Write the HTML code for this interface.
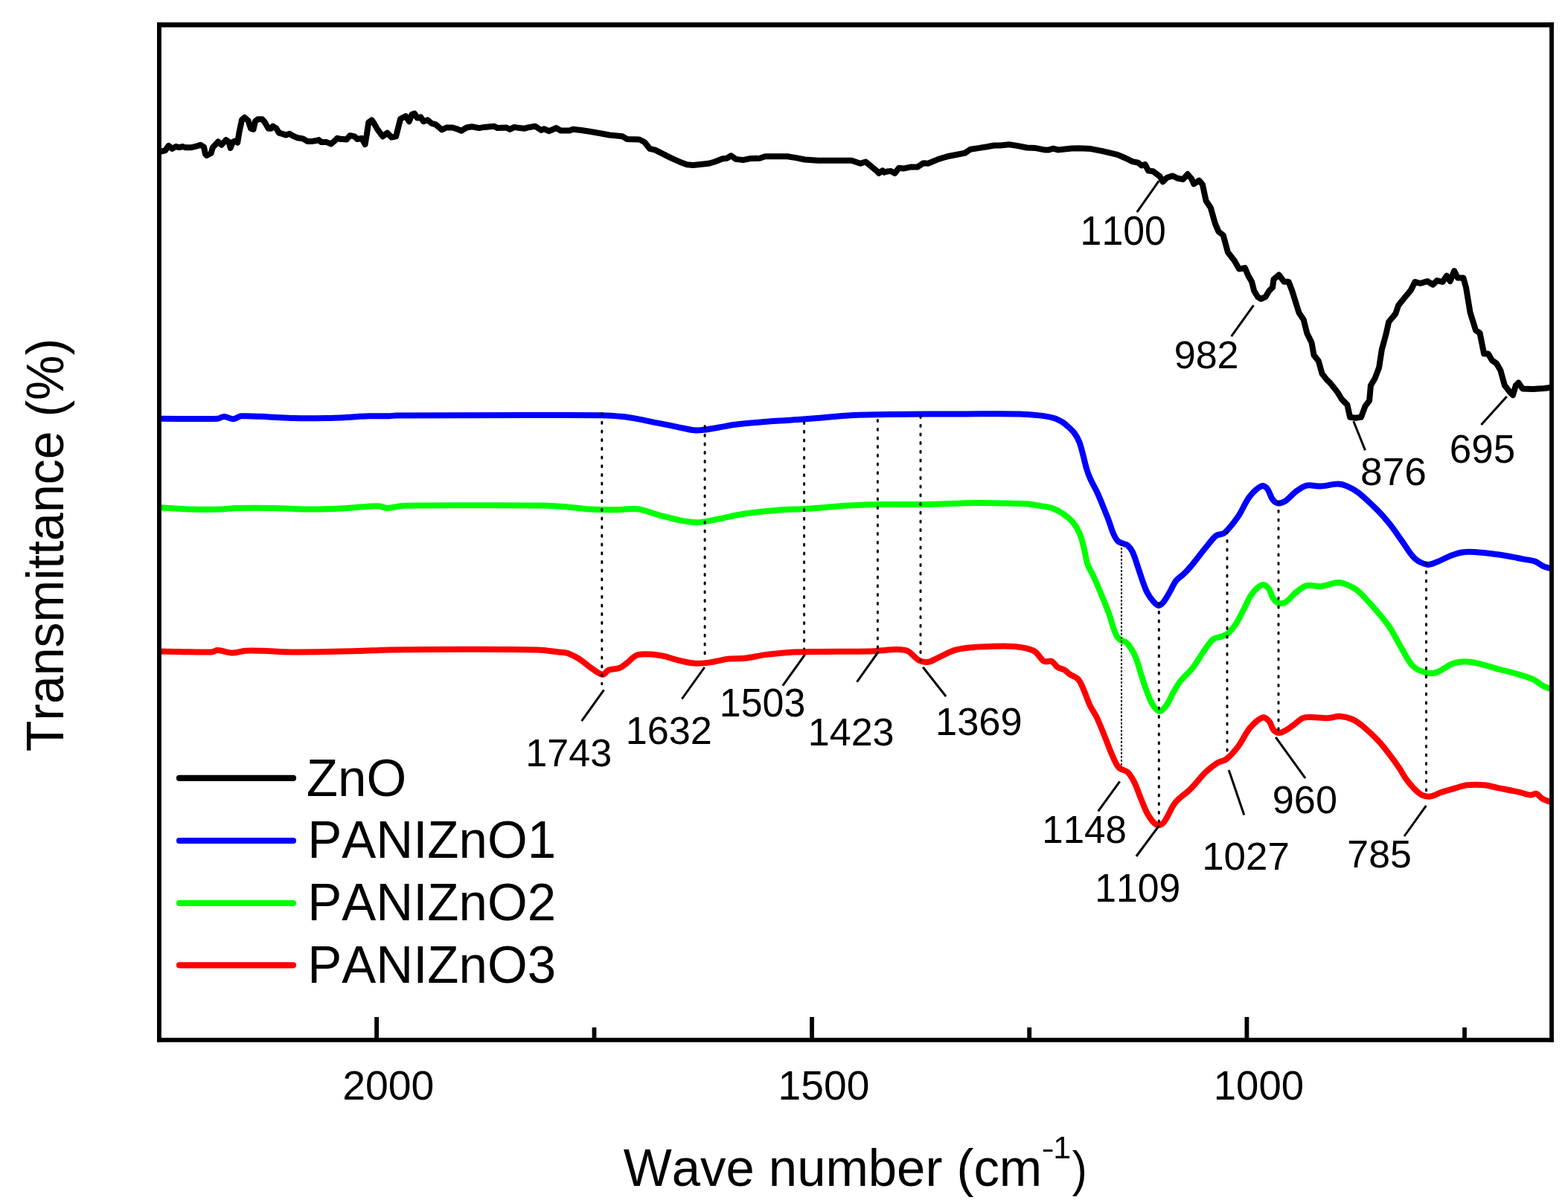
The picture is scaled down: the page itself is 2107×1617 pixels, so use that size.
<!DOCTYPE html>
<html><head><meta charset="utf-8"><title>FTIR spectra</title>
<style>
html,body{margin:0;padding:0;background:#fff;}
svg{display:block;}
text{font-family:"Liberation Sans",Arial,Helvetica,sans-serif;fill:#000;font-kerning:none;font-feature-settings:"kern" 0;}
</style></head><body>
<svg width="2107" height="1617" viewBox="0 0 2107 1617">
<rect x="0" y="0" width="2107" height="1617" fill="#fff"/>

<g fill="none" stroke-width="8" stroke-linejoin="round" stroke-linecap="round">
<polyline stroke="#000" points="216.5,203.6 221.9,202.4 226.6,195.9 231.4,200.0 236.1,197.0 240.8,198.2 245.6,197.0 249.2,198.2 257.5,198.2 264.6,196.4 269.3,194.7 274.0,197.6 275.9,207.1 277.6,208.9 283.6,205.9 285.9,198.2 293.1,190.5 297.8,194.7 303.7,188.1 307.3,190.5 309.7,198.8 313.2,190.5 316.8,189.3 319.2,191.7 321.5,177.5 325.1,160.9 328.7,157.9 333.4,162.0 337.0,172.7 340.5,173.9 342.9,163.2 346.4,160.3 352.4,160.3 355.9,164.4 360.7,172.7 364.3,172.7 366.6,169.7 371.4,172.7 374.9,178.6 380.9,180.4 384.4,181.6 389.2,179.8 393.9,182.8 399.8,185.2 407.0,186.4 412.9,189.9 420.0,189.9 423.6,189.3 428.3,188.1 431.9,191.1 439.0,191.1 444.9,193.5 449.7,189.3 453.2,185.8 458.0,187.0 460.9,187.0 465.7,187.5 470.4,182.2 476.4,183.4 479.9,187.0 485.8,185.8 490.6,194.1 493.0,179.8 495.3,164.4 499.5,161.4 502.5,165.6 507.2,173.9 514.3,183.4 520.3,178.6 526.2,184.6 532.1,183.4 535.7,169.2 538.1,159.7 545.2,156.1 549.9,163.2 553.5,153.7 557.0,152.5 560.6,158.5 565.3,157.3 568.9,163.2 574.8,161.4 579.6,165.6 585.5,167.4 590.3,171.5 593.8,174.5 599.8,171.5 608.1,171.5 614.0,173.3 619.9,175.7 627.0,171.5 634.2,170.3 643.7,172.1 650.8,170.9 663.8,169.7 668.6,172.1 680.4,171.5 685.2,173.9 691.1,170.9 698.2,172.1 705.0,172.7 709.5,171.4 719.0,169.7 727.3,175.0 730.8,173.2 738.0,176.2 747.5,172.0 753.4,175.6 765.3,175.6 770.0,173.8 780.7,175.0 792.5,176.8 806.8,179.2 818.7,181.5 836.5,183.3 842.4,186.9 859.0,187.5 866.1,191.0 873.2,199.9 880.4,201.7 889.8,206.4 901.7,212.4 913.6,217.7 923.1,221.3 931.4,221.9 943.2,220.7 952.1,219.8 960.4,217.5 971.1,213.3 977.0,212.7 982.4,209.2 988.9,213.9 998.4,215.1 1006.7,213.3 1020.9,212.7 1028.1,210.3 1057.7,210.3 1069.6,212.1 1081.4,214.5 1099.2,215.7 1123.0,215.7 1144.3,215.7 1156.2,219.8 1163.3,217.5 1170.4,223.4 1177.6,229.3 1181.1,232.9 1185.9,229.3 1188.2,231.7 1192.0,230.5 1197.1,229.9 1202.5,232.9 1207.8,225.8 1214.9,226.4 1223.2,224.6 1232.7,224.6 1241.0,219.2 1247.0,219.8 1261.2,213.9 1273.1,210.3 1284.9,208.0 1296.8,205.6 1303.9,200.8 1314.6,199.1 1326.4,197.3 1335.9,195.5 1344.2,195.5 1356.1,194.3 1368.0,196.1 1379.8,198.5 1391.7,199.1 1403.6,201.4 1409.5,201.4 1415.4,199.7 1421.4,201.4 1433.2,200.3 1440.0,199.6 1450.5,199.3 1465.9,200.1 1481.4,203.2 1501.5,207.8 1512.3,212.5 1521.6,217.1 1529.3,218.7 1534.0,222.5 1538.6,221.0 1543.2,229.5 1549.4,230.2 1558.7,237.2 1562.6,244.2 1568.0,238.8 1575.7,236.4 1581.9,239.5 1589.6,241.1 1595.8,234.1 1601.2,240.3 1604.3,247.3 1611.3,242.6 1615.9,248.0 1620.5,269.7 1626.7,278.9 1632.9,300.6 1637.5,311.4 1643.7,316.1 1649.9,339.0 1659.0,350.8 1665.1,361.6 1672.9,360.1 1677.5,370.9 1682.1,378.7 1685.2,391.0 1689.9,398.8 1694.5,401.8 1700.7,398.8 1705.3,391.0 1710.0,386.4 1711.5,375.6 1718.5,369.4 1725.4,378.7 1731.6,378.7 1736.3,391.0 1745.5,420.4 1751.7,429.7 1756.4,448.2 1762.5,460.6 1765.6,477.6 1771.8,485.3 1776.5,502.3 1782.6,510.1 1787.3,514.7 1790.0,518.0 1797.4,527.4 1803.0,536.7 1810.4,544.1 1814.1,560.8 1821.5,561.7 1829.0,560.8 1834.5,545.9 1840.1,538.5 1841.9,518.1 1847.5,508.8 1853.1,494.0 1856.8,469.9 1862.4,449.5 1866.1,432.8 1875.3,421.6 1879.1,410.5 1886.5,401.2 1895.8,390.1 1901.3,379.0 1908.7,380.8 1918.0,378.0 1925.4,382.7 1931.0,377.1 1938.4,379.0 1944.0,370.6 1948.6,378.0 1954.2,364.1 1958.8,373.4 1966.3,373.4 1970.0,386.4 1975.5,419.8 1983.0,443.9 1988.5,447.6 1994.1,475.4 1999.6,475.4 2005.2,484.7 2010.8,488.4 2016.3,497.7 2021.9,518.1 2029.3,527.4 2033.0,531.1 2036.8,518.1 2040.5,514.4 2046.0,522.5 2060.0,523.0 2075.0,522.0 2083.0,521.0"/>
<path stroke="#00f" stroke-linecap="butt" d="M215.0,562.7 C240.9,562.7 266.9,563.5 292.6,562.7 C295.6,562.6 298.2,559.8 301.1,559.9 C305.3,560.0 309.7,563.4 313.9,563.3 C317.3,563.2 320.4,559.5 323.9,559.3 C336.0,558.6 348.6,559.9 360.9,560.4 C372.3,560.8 383.7,561.8 395.1,562.1 C409.3,562.4 423.6,562.3 437.8,562.1 C447.3,562.0 456.8,561.5 466.3,561.0 C475.8,560.5 485.2,559.6 494.7,559.3 C504.2,559.0 513.7,559.5 523.2,559.3 C526.0,559.2 528.9,558.4 531.7,558.4 C624.0,558.0 716.3,557.7 808.6,558.2 C818.1,558.3 827.6,559.1 837.1,560.1 C844.1,560.8 851.1,562.1 858.0,563.4 C866.7,565.0 875.3,566.9 883.9,568.6 C892.6,570.3 901.2,572.1 909.9,573.8 C917.7,575.3 925.4,577.5 933.2,578.3 C937.5,578.8 941.9,578.2 946.2,577.7 C952.8,576.9 959.4,575.6 966.0,574.5 C973.3,573.3 980.5,571.6 987.8,570.8 C1005.0,568.8 1022.4,567.4 1039.7,566.0 C1052.7,565.0 1065.7,564.5 1078.7,563.6 C1091.7,562.6 1104.7,561.4 1117.7,560.3 C1126.3,559.6 1134.9,558.6 1143.6,558.2 C1160.9,557.4 1178.3,557.1 1195.6,556.9 C1230.2,556.5 1264.9,556.5 1299.5,556.4 C1322.8,556.3 1346.2,555.9 1369.5,556.4 C1379.2,556.6 1389.0,557.4 1398.6,558.6 C1404.8,559.4 1411.1,560.4 1417.1,562.3 C1421.0,563.5 1424.6,565.7 1428.2,567.8 C1430.0,568.9 1431.7,570.3 1433.3,571.7 C1436.8,574.9 1440.5,578.0 1443.4,581.7 C1446.1,585.2 1448.3,589.3 1450.0,593.4 C1452.2,598.7 1453.5,604.5 1455.0,610.1 C1456.8,616.7 1458.1,623.5 1460.1,630.1 C1461.5,634.7 1463.1,639.2 1465.1,643.5 C1468.1,650.3 1472.0,656.7 1475.1,663.5 C1478.1,670.1 1480.7,676.9 1483.4,683.6 C1485.7,689.2 1488.0,694.7 1490.1,700.3 C1492.2,705.8 1493.6,711.6 1496.0,717.0 C1497.5,720.5 1499.3,724.3 1501.8,727.0 C1503.4,728.8 1506.2,729.4 1508.5,730.4 C1510.7,731.4 1513.5,731.4 1515.2,732.9 C1517.9,735.3 1520.3,738.6 1521.9,742.0 C1524.7,747.8 1526.4,754.2 1528.5,760.4 C1530.8,767.1 1532.8,773.9 1535.2,780.5 C1537.3,786.1 1539.1,791.9 1541.9,797.2 C1544.1,801.4 1547.0,805.4 1550.2,808.9 C1552.0,810.9 1554.7,813.9 1556.9,813.9 C1559.1,813.9 1561.9,811.0 1563.6,808.9 C1566.9,804.9 1569.3,800.0 1572.0,795.5 C1574.9,790.6 1576.9,785.0 1580.3,780.5 C1582.9,777.2 1586.9,775.0 1590.0,772.1 C1593.1,769.1 1596.2,766.0 1599.0,762.7 C1606.6,753.6 1613.6,744.0 1621.2,734.8 C1625.4,729.7 1629.2,723.9 1634.2,720.0 C1637.2,717.7 1642.5,718.8 1645.4,716.3 C1652.4,710.1 1658.4,701.9 1663.9,694.0 C1669.6,685.8 1672.8,675.8 1678.8,668.0 C1683.3,662.2 1689.6,655.9 1695.5,653.2 C1697.7,652.2 1701.3,654.8 1702.9,656.9 C1706.2,661.0 1707.1,667.5 1710.3,671.7 C1712.0,674.0 1715.1,676.3 1717.7,676.4 C1721.1,676.6 1725.3,674.6 1728.4,672.6 C1733.1,669.5 1736.4,664.3 1741.0,661.0 C1745.6,657.7 1750.5,653.8 1755.8,652.6 C1761.7,651.3 1768.4,653.9 1774.7,653.6 C1782.4,653.2 1790.2,650.5 1797.8,650.5 C1802.1,650.5 1806.5,651.9 1810.4,653.6 C1815.6,655.8 1820.8,658.6 1825.2,662.1 C1834.1,669.1 1842.4,677.2 1850.4,685.2 C1856.4,691.2 1861.9,697.5 1867.2,704.1 C1873.1,711.6 1878.4,719.6 1884.0,727.3 C1889.6,735.0 1894.1,744.1 1900.9,750.4 C1905.4,754.6 1911.9,757.8 1917.7,758.8 C1921.7,759.5 1926.3,757.1 1930.3,755.6 C1937.5,752.9 1944.1,748.8 1951.3,746.2 C1956.7,744.2 1962.5,742.4 1968.2,742.0 C1976.5,741.4 1985.0,742.2 1993.4,743.0 C2003.9,744.0 2014.4,745.5 2024.9,747.2 C2032.0,748.3 2039.0,750.0 2046.0,751.4 C2051.6,752.5 2057.5,752.8 2062.8,754.6 C2066.6,755.9 2069.6,759.2 2073.3,760.9 C2076.6,762.4 2080.3,763.0 2083.8,764.1"/>
<path stroke="#0f0" stroke-linecap="butt" d="M215.0,682.3 C220.9,682.6 226.9,682.9 232.8,683.2 C241.3,683.7 249.9,684.4 258.4,684.6 C270.7,684.9 283.1,685.0 295.4,684.6 C303.0,684.4 310.6,683.1 318.2,682.9 C334.3,682.5 350.5,682.6 366.6,682.9 C384.6,683.2 402.7,684.6 420.7,684.6 C435.9,684.6 451.1,683.7 466.3,682.9 C474.8,682.5 483.4,681.4 491.9,680.9 C497.6,680.6 503.4,679.9 509.0,680.3 C512.9,680.6 516.6,682.9 520.4,682.9 C527.0,682.8 533.6,680.5 540.3,680.0 C547.9,679.4 555.5,679.5 563.1,679.5 C619.1,679.4 675.1,678.9 731.1,679.5 C742.5,679.6 753.8,680.8 765.2,681.7 C774.7,682.5 784.2,684.1 793.7,684.6 C805.3,685.2 816.9,685.3 828.5,685.2 C838.0,685.2 847.6,683.1 856.9,684.3 C866.6,685.5 875.9,689.8 885.4,692.3 C894.9,694.8 904.3,697.5 913.9,699.4 C921.4,700.8 929.1,702.2 936.7,702.2 C943.3,702.2 950.0,700.6 956.6,699.4 C970.9,696.8 985.0,693.0 999.3,690.8 C1013.4,688.6 1027.7,687.2 1042.0,686.0 C1056.2,684.8 1070.5,684.6 1084.7,683.7 C1103.7,682.5 1122.7,680.6 1141.7,679.5 C1155.9,678.7 1170.2,678.2 1184.4,678.0 C1203.4,677.7 1222.3,678.3 1241.3,678.0 C1265.0,677.6 1288.8,676.3 1312.5,676.0 C1326.7,675.8 1341.0,676.3 1355.2,676.6 C1363.5,676.8 1371.8,676.6 1380.0,677.3 C1386.2,677.8 1392.4,679.1 1398.6,680.1 C1403.6,680.9 1408.7,681.3 1413.4,682.9 C1418.6,684.7 1423.6,687.3 1428.2,690.3 C1432.9,693.4 1437.5,697.1 1441.2,701.4 C1445.0,705.8 1448.1,711.0 1450.5,716.3 C1453.1,722.1 1454.5,728.6 1456.1,734.8 C1458.2,742.8 1459.0,751.2 1461.6,759.0 C1463.3,764.2 1466.8,768.8 1469.1,773.8 C1473.0,782.4 1476.6,791.1 1480.2,799.8 C1483.5,807.8 1486.9,815.8 1489.9,824.0 C1492.0,829.8 1493.4,835.9 1495.4,841.7 C1497.0,846.3 1498.4,851.2 1500.8,855.3 C1502.1,857.5 1504.2,859.3 1506.3,860.7 C1508.3,862.0 1511.3,861.9 1513.1,863.4 C1515.8,865.6 1518.0,868.6 1519.9,871.6 C1522.6,875.9 1524.9,880.5 1526.7,885.2 C1529.4,892.3 1531.2,899.8 1533.5,907.0 C1535.7,913.8 1537.8,920.7 1540.3,927.4 C1542.8,933.8 1544.9,940.6 1548.5,946.4 C1550.8,950.2 1554.7,955.8 1558.0,956.0 C1561.1,956.2 1565.1,951.1 1567.5,947.8 C1571.4,942.5 1573.6,935.9 1577.0,930.1 C1580.0,925.0 1582.9,919.7 1586.6,915.1 C1591.6,908.9 1598.0,903.8 1602.9,897.5 C1607.9,891.1 1611.7,883.7 1616.5,877.0 C1620.8,870.9 1624.6,863.9 1630.1,859.3 C1633.3,856.6 1638.4,856.9 1642.4,855.3 C1645.2,854.2 1648.3,853.2 1650.5,851.2 C1654.7,847.3 1658.3,842.5 1661.4,837.6 C1665.5,831.1 1668.7,824.0 1672.3,817.2 C1675.1,811.8 1677.2,805.9 1680.5,800.8 C1683.1,796.8 1686.4,793.0 1690.0,789.9 C1692.1,788.1 1695.1,785.7 1697.5,785.9 C1700.1,786.1 1703.2,788.9 1705.0,791.3 C1707.5,794.8 1708.0,799.8 1710.4,803.5 C1712.1,806.2 1714.5,808.9 1717.2,810.4 C1719.1,811.4 1721.9,811.5 1724.0,811.0 C1726.1,810.5 1728.3,809.1 1730.0,807.6 C1733.9,804.3 1737.0,799.9 1741.0,796.7 C1745.6,793.1 1750.4,788.6 1755.8,787.2 C1761.6,785.7 1768.5,788.8 1774.7,788.2 C1782.5,787.4 1790.1,783.5 1797.8,783.0 C1802.0,782.8 1806.5,784.4 1810.4,786.1 C1815.6,788.3 1821.0,790.8 1825.2,794.6 C1834.3,802.8 1842.3,812.6 1850.4,821.9 C1856.3,828.7 1862.2,835.5 1867.2,842.9 C1873.4,852.3 1878.2,862.7 1884.0,872.4 C1888.7,880.2 1892.5,889.3 1898.8,895.5 C1903.1,899.8 1909.7,902.3 1915.6,903.9 C1920.2,905.1 1925.8,905.4 1930.3,903.9 C1937.7,901.5 1943.9,895.2 1951.3,892.3 C1956.6,890.3 1962.5,889.2 1968.2,889.2 C1975.2,889.2 1982.3,890.7 1989.2,892.3 C1997.7,894.2 2006.0,897.4 2014.4,899.7 C2021.4,901.6 2028.6,902.9 2035.5,905.0 C2044.0,907.5 2052.7,909.8 2060.7,913.4 C2065.3,915.4 2068.9,919.4 2073.3,921.8 C2076.6,923.6 2080.3,924.6 2083.8,926.0"/>
<path stroke="#f00" stroke-linecap="butt" d="M215.0,875.5 C238.0,875.8 261.1,876.8 284.0,876.4 C287.0,876.3 289.7,874.0 292.6,874.1 C299.2,874.4 305.9,877.4 312.5,877.5 C318.2,877.6 323.9,875.1 329.6,874.7 C337.2,874.2 344.8,874.5 352.4,874.7 C365.7,875.1 378.9,876.4 392.2,876.4 C421.6,876.5 451.1,875.7 480.5,875.0 C494.7,874.7 509.0,873.7 523.2,873.5 C556.4,873.0 589.7,872.7 622.9,872.7 C656.1,872.7 689.3,872.5 722.5,873.5 C732.0,873.8 741.4,875.4 750.8,876.5 C754.8,876.9 759.1,876.7 762.9,878.0 C768.2,879.8 773.3,882.6 778.1,885.6 C784.5,889.6 790.0,895.0 796.3,899.2 C800.6,902.1 805.6,906.5 810.0,906.8 C812.7,907.0 814.7,902.0 817.6,900.8 C822.3,898.9 828.1,899.5 832.8,897.7 C836.2,896.4 838.9,893.7 841.9,891.6 C847.0,887.9 851.3,881.6 857.1,880.2 C866.4,878.0 877.4,879.7 887.4,881.0 C895.1,882.0 902.5,885.3 910.2,887.1 C917.7,888.9 925.3,891.1 933.0,891.6 C940.5,892.1 948.3,891.1 955.8,890.1 C963.5,889.1 970.9,886.5 978.6,885.6 C985.7,884.8 992.9,885.6 1000.0,884.8 C1010.0,883.7 1019.9,881.2 1029.9,879.9 C1039.8,878.6 1049.8,877.5 1059.8,876.9 C1073.1,876.1 1086.4,876.1 1099.7,875.9 C1122.9,875.6 1146.2,876.0 1169.4,875.5 C1176.1,875.4 1182.7,874.4 1189.4,873.9 C1194.0,873.5 1198.7,872.7 1203.3,872.9 C1208.6,873.1 1214.6,872.7 1219.3,874.9 C1225.2,877.7 1229.4,884.7 1235.2,887.8 C1238.7,889.7 1243.3,890.3 1247.2,889.8 C1251.3,889.3 1255.2,886.5 1259.1,884.8 C1267.1,881.2 1274.7,876.4 1283.0,873.9 C1291.3,871.4 1300.3,870.8 1309.0,869.9 C1315.6,869.2 1322.3,869.0 1328.9,868.9 C1340.2,868.7 1351.5,868.3 1362.8,868.9 C1368.6,869.2 1374.4,870.3 1380.0,871.7 C1383.9,872.7 1388.2,873.9 1391.4,876.3 C1395.8,879.6 1398.4,886.3 1402.9,888.9 C1405.6,890.5 1410.3,887.6 1413.2,888.9 C1416.4,890.3 1418.1,894.9 1421.2,896.9 C1423.9,898.7 1427.6,898.8 1430.4,900.4 C1432.9,901.9 1434.8,904.4 1437.2,906.1 C1440.9,908.6 1445.8,909.8 1448.7,912.9 C1451.9,916.2 1453.5,921.2 1455.5,925.5 C1458.9,933.0 1461.2,941.0 1464.7,948.4 C1467.3,953.9 1471.2,958.9 1473.8,964.4 C1478.0,973.4 1481.5,982.7 1485.3,991.9 C1488.4,999.5 1491.0,1007.3 1494.4,1014.8 C1497.1,1020.7 1499.4,1027.4 1503.6,1032.0 C1506.3,1035.0 1512.0,1034.9 1515.0,1037.7 C1518.9,1041.3 1521.7,1046.5 1524.2,1051.4 C1527.9,1058.7 1530.2,1066.7 1533.4,1074.3 C1536.3,1081.2 1538.7,1088.5 1542.5,1094.9 C1545.5,1100.0 1549.5,1106.1 1554.0,1108.6 C1556.4,1109.9 1561.2,1108.6 1563.1,1106.3 C1569.6,1098.7 1572.6,1087.1 1579.1,1078.9 C1584.8,1071.8 1593.2,1067.1 1599.7,1060.6 C1606.9,1053.4 1613.0,1044.8 1620.3,1037.7 C1625.2,1033.0 1630.6,1028.7 1636.3,1025.1 C1639.8,1022.9 1644.6,1023.0 1647.8,1020.5 C1653.8,1015.8 1659.1,1009.6 1663.8,1003.4 C1669.8,995.5 1673.4,985.7 1679.8,978.2 C1684.5,972.7 1691.1,966.3 1697.0,964.4 C1699.7,963.5 1703.6,967.4 1705.7,969.9 C1708.4,973.0 1708.7,978.3 1711.4,981.3 C1713.2,983.3 1716.4,985.1 1719.0,985.1 C1722.1,985.1 1725.5,982.9 1728.5,981.3 C1731.9,979.4 1734.8,976.8 1738.0,974.6 C1742.4,971.4 1746.4,966.9 1751.3,965.1 C1755.9,963.4 1761.4,964.2 1766.4,964.2 C1772.7,964.2 1779.1,965.4 1785.4,965.1 C1790.5,964.9 1795.6,962.4 1800.6,962.7 C1806.3,963.0 1812.4,964.6 1817.7,967.0 C1823.2,969.5 1828.2,973.6 1832.9,977.5 C1839.6,983.1 1845.9,989.2 1851.9,995.5 C1856.7,1000.5 1861.0,1006.1 1865.2,1011.6 C1870.5,1018.4 1875.6,1025.4 1880.4,1032.5 C1883.8,1037.4 1886.3,1042.9 1889.8,1047.7 C1893.2,1052.4 1897.1,1056.9 1901.2,1061.0 C1904.1,1063.9 1907.1,1067.0 1910.7,1068.6 C1914.1,1070.1 1918.4,1071.0 1922.1,1070.5 C1927.3,1069.8 1932.2,1066.5 1937.3,1064.8 C1943.6,1062.7 1949.9,1060.9 1956.3,1059.1 C1961.3,1057.7 1966.3,1055.8 1971.5,1055.3 C1979.0,1054.5 1986.8,1054.6 1994.3,1055.3 C2000.7,1055.9 2006.9,1057.8 2013.2,1059.1 C2022.7,1061.0 2032.2,1062.7 2041.7,1064.8 C2046.8,1065.9 2051.8,1068.2 2056.9,1068.6 C2059.4,1068.8 2062.3,1066.0 2064.5,1066.7 C2067.3,1067.6 2069.3,1071.6 2072.1,1073.3 C2075.6,1075.4 2079.7,1076.5 2083.5,1078.1"/>
</g>
<g stroke="#000" fill="none">
<line x1="808.8" y1="555.5" x2="808.8" y2="919.5" stroke-width="3" stroke-linecap="round" stroke-dasharray="2 9.7"/>
<line x1="947.1" y1="572.5" x2="947.1" y2="887.5" stroke-width="3" stroke-linecap="round" stroke-dasharray="2 9.7"/>
<line x1="1080.6" y1="567.5" x2="1080.6" y2="872.5" stroke-width="3" stroke-linecap="round" stroke-dasharray="2 9.7"/>
<line x1="1179.4" y1="564.5" x2="1179.4" y2="870.5" stroke-width="3" stroke-linecap="round" stroke-dasharray="2 9.7"/>
<line x1="1237.0" y1="559.5" x2="1237.0" y2="887.5" stroke-width="3" stroke-linecap="round" stroke-dasharray="2 9.7"/>
<line x1="1507.0" y1="731.0" x2="1507.0" y2="1032.0" stroke-width="2" stroke-dasharray="2.7 2.3"/>
<line x1="1557.3" y1="810.5" x2="1557.3" y2="1104.5" stroke-width="3" stroke-linecap="round" stroke-dasharray="2 9.7"/>
<line x1="1649.0" y1="714.5" x2="1649.0" y2="1018.5" stroke-width="3" stroke-linecap="round" stroke-dasharray="2 9.7"/>
<line x1="1718.0" y1="674.5" x2="1718.0" y2="983.5" stroke-width="3" stroke-linecap="round" stroke-dasharray="2 9.7"/>
<line x1="1916.5" y1="756.5" x2="1916.5" y2="1068.5" stroke-width="3" stroke-linecap="round" stroke-dasharray="2 9.7"/>
</g>
<g stroke="#000" stroke-width="3" fill="none">
<line x1="1527.8" y1="285.1" x2="1557.1" y2="243.4"/>
<line x1="1654.6" y1="452.1" x2="1684.5" y2="410.3"/>
<line x1="1818.8" y1="566.3" x2="1834.5" y2="605.3"/>
<line x1="1990.4" y1="571.0" x2="2024.7" y2="533.0"/>
<line x1="781.6" y1="969.1" x2="811.5" y2="927.3"/>
<line x1="916.3" y1="939.5" x2="946.7" y2="897.0"/>
<line x1="1051.8" y1="921.7" x2="1081.7" y2="879.9"/>
<line x1="1151.5" y1="916.7" x2="1180.4" y2="875.9"/>
<line x1="1240.2" y1="896.8" x2="1271.1" y2="936.1"/>
<line x1="1475.7" y1="1090.3" x2="1504.7" y2="1050.3"/>
<line x1="1526.9" y1="1151.0" x2="1557.4" y2="1109.8"/>
<line x1="1651.2" y1="1034.9" x2="1671.8" y2="1095.6"/>
<line x1="1714.2" y1="990.8" x2="1754.1" y2="1046.2"/>
<line x1="1887.0" y1="1124.0" x2="1916.4" y2="1082.8"/>
</g>
<g fill="#000">
<rect x="211" y="30.1" width="1877" height="6.6"/>
<rect x="211" y="1394.9" width="1877" height="5.9"/>
<rect x="211" y="30.1" width="5.9" height="1370.7"/>
<rect x="2082.1" y="30.1" width="5.8" height="1370.7"/>
<rect x="503.2" y="1367" width="5.8" height="30"/>
<rect x="1088.1" y="1367" width="5.8" height="30"/>
<rect x="1672.5" y="1367" width="5.8" height="30"/>
<rect x="795.6" y="1381" width="5.8" height="16"/>
<rect x="1380.3" y="1381" width="5.8" height="16"/>
<rect x="1965.1" y="1381" width="5.8" height="16"/>
</g>
<text transform="translate(460.21 1478.16) scale(1.0084 1)" font-size="54.94">2000</text>
<text transform="translate(1045.59 1478.16) scale(1.0044 1)" font-size="54.94">1500</text>
<text transform="translate(1630.75 1478.16) scale(0.9931 1)" font-size="54.94">1000</text>
<text transform="translate(1451.61 328.67) scale(0.9483 1)" font-size="54.66">1100</text>
<text transform="translate(1577.66 494.89) scale(0.9947 1)" font-size="52.40">982</text>
<text transform="translate(1828.09 652.09) scale(1.0151 1)" font-size="52.40">876</text>
<text transform="translate(1947.81 622.38) scale(0.9874 1)" font-size="53.67">695</text>
<text transform="translate(706.29 1030.09) scale(0.9916 1)" font-size="52.54">1743</text>
<text transform="translate(840.67 1000.49) scale(0.9946 1)" font-size="52.54">1632</text>
<text transform="translate(966.80 963.38) scale(0.9680 1)" font-size="53.67">1503</text>
<text transform="translate(1085.69 1001.89) scale(1.0024 1)" font-size="51.98">1423</text>
<text transform="translate(1257.06 987.99) scale(1.0050 1)" font-size="52.12">1369</text>
<text transform="translate(1400.29 1133.29) scale(0.9739 1)" font-size="52.40">1148</text>
<text transform="translate(1471.13 1212.28) scale(0.9684 1)" font-size="53.39">1109</text>
<text transform="translate(1615.21 1168.80) scale(1.0230 1)" font-size="51.69">1027</text>
<text transform="translate(1709.85 1092.79) scale(0.9961 1)" font-size="52.40">960</text>
<text transform="translate(1810.34 1165.89) scale(0.9886 1)" font-size="52.40">785</text>
<line x1="241" y1="1045.9" x2="394" y2="1045.9" stroke="#000" stroke-width="8.2" stroke-linecap="round"/>
<text transform="translate(411.81 1070.00) scale(1 1.0310)" font-size="69.08">ZnO</text>
<line x1="241" y1="1130.0" x2="394" y2="1130.0" stroke="#00f" stroke-width="8.2" stroke-linecap="round"/>
<text transform="translate(413.13 1153.00) scale(1 1.0310)" font-size="69.08">PANIZnO1</text>
<line x1="241" y1="1214.0" x2="394" y2="1214.0" stroke="#0f0" stroke-width="8.2" stroke-linecap="round"/>
<text transform="translate(413.13 1237.20) scale(1 1.0310)" font-size="69.08">PANIZnO2</text>
<line x1="241" y1="1297.3" x2="394" y2="1297.3" stroke="#f00" stroke-width="8.2" stroke-linecap="round"/>
<text transform="translate(413.13 1320.50) scale(1 1.0310)" font-size="69.08">PANIZnO3</text>
<text transform="translate(837.70 1593.80) scale(1 1.0319)" font-size="68.88">Wave number (cm</text>
<text transform="translate(1399.6 1555.6) scale(1.2 0.85)" font-size="43">-</text>
<text transform="translate(1415.2 1556.5)" font-size="43">1</text>
<text transform="translate(1440.64 1594) scale(0.893 1)" font-size="67.6">)</text>
<text transform="translate(84.9 1010.23) rotate(-90) scale(1 1.0453)" font-size="68.00">Transmittance (%)</text>
</svg>
</body></html>
